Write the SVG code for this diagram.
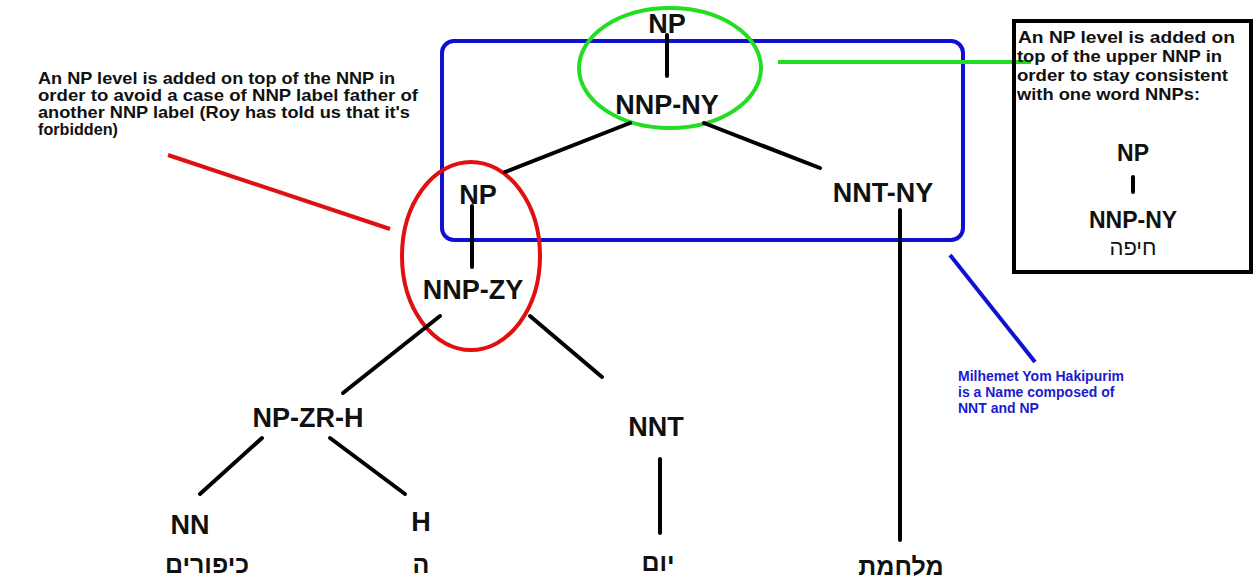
<svg xmlns="http://www.w3.org/2000/svg" width="1257" height="580" viewBox="0 0 1257 580">
<style>
.lbl{font-family:"Liberation Sans","DejaVu Sans",sans-serif;font-weight:bold;font-size:27px;fill:#111;text-anchor:middle}
.heb{font-family:"Liberation Sans","DejaVu Sans",sans-serif;font-weight:bold;font-size:25px;fill:#111;text-anchor:middle}
.note{font-family:"Liberation Sans","DejaVu Sans",sans-serif;font-weight:bold;font-size:16.5px;fill:#111}
.bnote{font-family:"Liberation Sans","DejaVu Sans",sans-serif;font-weight:bold;font-size:14px;fill:#1a1ad0}
.edge{stroke:#000;stroke-width:4;fill:none;stroke-linecap:round}
</style>
<rect width="1257" height="580" fill="#fff"/>
<g id="highlights">
<rect id="blue-box" x="442" y="41" width="521" height="199" rx="12" fill="none" stroke="#1010d0" stroke-width="4"/>
<ellipse id="green-ellipse" cx="670" cy="68" rx="91" ry="60" fill="none" stroke="#22dd22" stroke-width="4"/>
<ellipse id="red-ellipse" cx="471" cy="256" rx="69" ry="94" fill="none" stroke="#e01010" stroke-width="4"/>
</g>
<g id="connectors">
<line class="edge" x1="667" y1="35" x2="667" y2="76"/>
<line class="edge" x1="630" y1="123" x2="505" y2="172"/>
<line class="edge" x1="704" y1="123" x2="820" y2="168"/>
<line class="edge" x1="472" y1="206" x2="472" y2="267"/>
<line class="edge" x1="900" y1="210" x2="900" y2="540"/>
<line class="edge" x1="440" y1="316" x2="343" y2="393"/>
<line class="edge" x1="530" y1="316" x2="602" y2="377"/>
<line class="edge" x1="262" y1="438" x2="200" y2="494"/>
<line class="edge" x1="330" y1="438" x2="405" y2="494"/>
<line class="edge" x1="660" y1="459" x2="660" y2="533"/>
<line x1="168" y1="155" x2="390" y2="229" stroke="#e01010" stroke-width="4"/>
<line x1="778" y1="62" x2="1031" y2="62" stroke="#22dd22" stroke-width="4"/>
<line x1="950" y1="255" x2="1035" y2="362" stroke="#1010d0" stroke-width="4"/>
</g>
<g id="node-np-top"><text class="lbl" x="667" y="33">NP</text></g>
<g id="node-nnp-ny"><text class="lbl" x="667" y="114">NNP-NY</text></g>
<g id="node-np-mid"><text class="lbl" x="478" y="204">NP</text></g>
<g id="node-nnt-ny"><text class="lbl" x="883" y="202">NNT-NY</text></g>
<g id="node-nnp-zy"><text class="lbl" x="473" y="299">NNP-ZY</text></g>
<g id="node-np-zr-h"><text class="lbl" x="308" y="427">NP-ZR-H</text></g>
<g id="node-nnt"><text class="lbl" x="656" y="436">NNT</text></g>
<g id="node-nn"><text class="lbl" x="190" y="534">NN</text></g>
<g id="node-h"><text class="lbl" x="421" y="531">H</text></g>
<g id="word-kipurim"><text class="heb" x="207" y="573">כיפורים</text></g>
<g id="word-he"><text class="heb" x="421" y="573">ה</text></g>
<g id="word-yom"><text class="heb" x="658" y="571">יום</text></g>
<g id="word-milhemet"><text class="heb" x="901" y="575">מלחמת</text></g>
<g id="note-left">
<text class="note" x="38" y="84" textLength="357" lengthAdjust="spacingAndGlyphs">An NP level is added on top of the NNP in</text>
<text class="note" x="38" y="101" textLength="380" lengthAdjust="spacingAndGlyphs">order to avoid a case of NNP label father of</text>
<text class="note" x="38" y="118" textLength="372" lengthAdjust="spacingAndGlyphs">another NNP label (Roy has told us that it's</text>
<text class="note" x="38" y="135" textLength="80" lengthAdjust="spacingAndGlyphs">forbidden)</text>
</g>
<g id="note-right">
<rect x="1014" y="21" width="237" height="251" fill="none" stroke="#000" stroke-width="4"/>
<text class="note" x="1018" y="43" textLength="217" lengthAdjust="spacingAndGlyphs">An NP level is added on</text>
<text class="note" x="1017" y="62" textLength="205" lengthAdjust="spacingAndGlyphs">top of the upper NNP in</text>
<text class="note" x="1017" y="81" textLength="211" lengthAdjust="spacingAndGlyphs">order to stay consistent</text>
<text class="note" x="1017" y="100" textLength="183" lengthAdjust="spacingAndGlyphs">with one word NNPs:</text>
<text class="lbl" x="1133" y="161" style="font-size:23px">NP</text>
<line class="edge" x1="1133" y1="177" x2="1133" y2="192"/>
<text class="lbl" x="1133" y="228" style="font-size:23px">NNP-NY</text>
<text class="heb" x="1133" y="255" style="font-size:22px;font-weight:normal">חיפה</text>
</g>
<g id="note-blue">
<text class="bnote" x="958" y="381">Milhemet Yom Hakipurim</text>
<text class="bnote" x="958" y="397">is a Name composed of</text>
<text class="bnote" x="958" y="413">NNT and NP</text>
</g>
</svg>
